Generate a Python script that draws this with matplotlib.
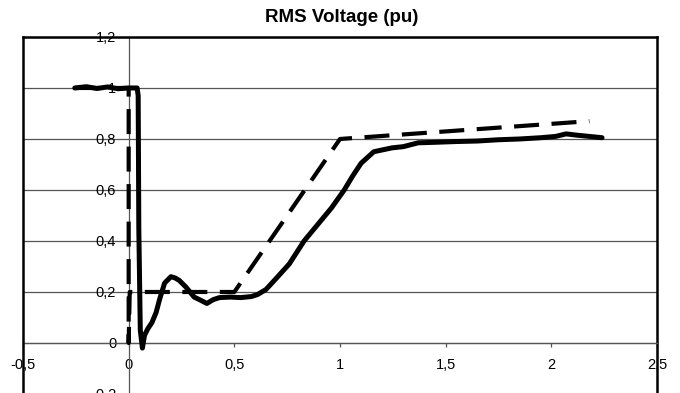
import matplotlib
matplotlib.use("Agg")
import matplotlib.pyplot as plt

plt.rcParams['font.family'] = ['Liberation Sans', 'DejaVu Sans']

title = "RMS Voltage (pu)"

# Measured RMS voltage (solid)
t_meas = [-0.255, -0.2, -0.15, -0.1, -0.05, 0.0, 0.04, 0.045, 0.048, 0.055, 0.065,
          0.075, 0.09, 0.11, 0.13, 0.146, 0.17, 0.20, 0.22, 0.24, 0.27, 0.29, 0.31,
          0.335, 0.37, 0.40, 0.43, 0.48, 0.53, 0.58, 0.61, 0.65, 0.70, 0.76, 0.83,
          0.90, 0.96, 1.02, 1.06, 1.10, 1.16, 1.245, 1.30, 1.37, 1.45, 1.55, 1.65,
          1.75, 1.85, 1.95, 2.02, 2.07, 2.12, 2.18, 2.24]
v_meas = [1.0, 1.005, 0.998, 1.004, 0.997, 1.0, 1.0, 0.97, 0.45, 0.05, -0.02,
          0.03, 0.055, 0.08, 0.12, 0.17, 0.235, 0.26, 0.255, 0.245, 0.22, 0.20, 0.18,
          0.17, 0.155, 0.17, 0.178, 0.18, 0.178, 0.182, 0.19, 0.21, 0.255, 0.31, 0.40,
          0.47, 0.53, 0.60, 0.655, 0.705, 0.75, 0.765, 0.77, 0.785, 0.787, 0.79, 0.792,
          0.797, 0.80, 0.805, 0.81, 0.82, 0.815, 0.81, 0.805]

# Reference envelope (dashed)
t_ref = [-0.255, 0.0, 0.0, 0.005, 0.5, 1.0, 2.18]
v_ref = [1.0, 1.0, 0.0, 0.2, 0.2, 0.8, 0.87]

x_ticks = [-0.5, 0, 0.5, 1, 1.5, 2, 2.5]
x_labels = ['-0,5', '0', '0,5', '1', '1,5', '2', '2,5']
y_ticks = [-0.2, 0, 0.2, 0.4, 0.6, 0.8, 1.0, 1.2]
y_labels = ['-0,2', '0', '0,2', '0,4', '0,6', '0,8', '1', '1,2']

fig = plt.figure(figsize=(6.8, 3.93), dpi=100)
ax = fig.add_axes([23/680, -0.0025, 634/680, 0.9084])
ax.set_xlim(-0.5, 2.5)
ax.set_ylim(-0.2, 1.2)

ax.plot(t_ref, v_ref, color='black', lw=3.0, dashes=(6, 3), zorder=3)
ax.plot(t_meas, v_meas, color='black', lw=3.6, solid_capstyle='round',
        solid_joinstyle='round', zorder=4)

grid_c = '#555555'
ax.spines['left'].set_position(('data', 0))
ax.spines['left'].set_color(grid_c)
ax.spines['left'].set_linewidth(0.9)
ax.spines['bottom'].set_position(('data', 0))
ax.spines['bottom'].set_color(grid_c)
ax.spines['bottom'].set_linewidth(0.9)
for s in ['top', 'right']:
    ax.spines[s].set_color('black')
    ax.spines[s].set_linewidth(1.8)
ax.axvline(-0.5, color='black', lw=1.8, clip_on=False, zorder=5)

ax.set_xticks(x_ticks)
ax.set_xticklabels(x_labels)
ax.set_yticks(y_ticks)
ax.set_yticklabels(y_labels)
ax.yaxis.grid(True, color=grid_c, lw=0.9)
ax.tick_params(axis='y', length=0, pad=9, labelsize=10.5)
ax.tick_params(axis='x', direction='out', length=3, width=0.9, color=grid_c,
               pad=8, labelsize=10.5)

fig.text(342/680, 1 - 17/393, title, ha='center', va='center',
         fontsize=13.5, fontweight='bold')

fig.savefig('out.png', dpi=100)
